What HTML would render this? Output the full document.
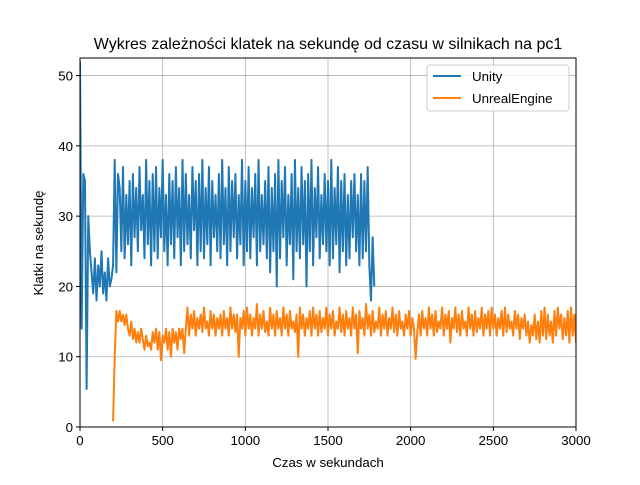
<!DOCTYPE html>
<html><head><meta charset="utf-8"><style>
body{margin:0;background:#fff;}
svg text{font-family:"Liberation Sans","DejaVu Sans",sans-serif;}
</style></head><body>
<svg id="chart" width="640" height="480" xmlns="http://www.w3.org/2000/svg">
<defs><clipPath id="plotclip"><rect x="80" y="58" width="496" height="369"/></clipPath></defs>
<rect width="640" height="480" fill="#fff"/>
<text x="328" y="49" font-size="16" text-anchor="middle">Wykres zależności klatek na sekundę od czasu w silnikach na pc1</text>
<g id="grid"></g>
<g id="series" clip-path="url(#plotclip)"></g>
<rect x="80" y="58" width="496" height="369" fill="none" stroke="#000" stroke-width="1"/>
<g id="ticks"></g>
<text x="328" y="467" font-size="13.3" text-anchor="middle">Czas w sekundach</text>
<text x="0" y="0" font-size="13.3" text-anchor="middle" transform="translate(43,243) rotate(-90)">Klatki na sekundę</text>
<g>
<rect x="427" y="65" width="142" height="46" rx="3" fill="#fff" fill-opacity="0.8" stroke="#ccc"/>
<line x1="433" y1="76" x2="461" y2="76" stroke="#1f77b4" stroke-width="2"/>
<text x="472" y="81" font-size="13.3">Unity</text>
<line x1="433" y1="98" x2="461" y2="98" stroke="#ff7f0e" stroke-width="2"/>
<text x="472" y="103" font-size="13.3">UnrealEngine</text>
</g>
</svg>
<script>
const xTicks=[0,500,1000,1500,2000,2500,3000];
const yTicks=[0,10,20,30,40,50];
const unityStart=0, unityStep=10;
const unityValues=[52,14,36,35,5.4,30,25,
22,19,24,18,23,20,25,19,22,18,24,20,21,
23,38,22,36,
34,25,37,24,33,26,35,23,36,27,34,25,37,28,33,24,
38,26,35,23,36,25,37,24,34,27,38,25,33,23,36,26,
35,24,37,27,34,23,38,25,36,26,33,24,37,28,35,23,
36,25,38,24,34,26,37,23,35,27,33,25,36,24,38,26,
34,23,37,25,35,27,36,24,33,26,38,23,35,25,37,24,
34,27,36,23,38,25,33,26,35,24,37,22,34,25,36,20,
38,24,35,27,37,23,33,26,36,21,38,25,34,24,37,26,
35,20,36,25,38,23,34,27,37,24,33,26,36,25,35,23,
38,24,34,26,37,22,35,25,36,23,33,24,35,27,36,25,
33,23,36,24,35,25,37,23,
18,27,20];
const unrealStart=200, unrealStep=10;
const unrealValues=[0.8,
10,16.5,15,16.5,15,16,14.5,16,14,
13,15,12.5,14,12,13.5,12,14,12.5,11,13,11.5,12,11,13.5,
12,14,11,13.5,9.5,13,12,14,11,13.5,10,14,12,13.5,11,14,12.5,14,10.5,14,
17,13,16,14,16.5,13,15.5,14,16,13.5,17,14,15,13,16.5,14,16,13,15.5,14,
16,13,16.5,14,15.5,13,17,14,16,13.5,16,10,15.5,14,16.5,13,17,14,16,13,
15.5,14,17.5,13,16,14,16.5,13.5,15,13,17,14,16,13,16.5,14,15.5,13,17,14,
16,13,16.5,14,15,13.5,16,10,17,14,16,13,15.5,14,16.5,13,17,14,16,13,
16.5,13.5,15.5,14,17,13,16,14,16.5,13,15,14,17,13.5,16,13,16.5,14,15.5,13,
17,14,16,10.5,16.5,14,15.5,13,17.5,14,16,13,16.5,13.5,15,14,17,13,16,14,
16.5,13,15.5,14,17,13.5,16,13,16.5,14,15,13,16,14,16.5,13,15.5,14,9.7,13.5,
16,13,16.5,14,15.5,13,17,14,16,13,16.5,13.5,15,14,17,13,16,14,16.5,12,
15.5,14,17,13.5,16,13,16.5,14,15,13,17,14,16,13,16.5,13.5,15.5,14,17,13,
16,14,16.5,13,17,14,16,13,15.5,14,16.5,13,17,13.5,16,14,15,13,16.5,14,
16,12.5,15.5,14,16,13,15,12,14.5,13,16,12.5,15,12,16.5,13,17,12.5,16,13,
15,12,16.5,13,17,14,16,12.5,15.5,13,16.5,12,17,13,16,12];
const ns='http://www.w3.org/2000/svg';
const X0=80,X1=576,Y0=427,Y1=58,XMAX=3000,YMAX=52.5;
function sx(v){return X0+(v/XMAX)*(X1-X0);}
function sy(v){return Y0-(v/YMAX)*(Y0-Y1);}
const grid=document.getElementById('grid'),ticks=document.getElementById('ticks'),ser=document.getElementById('series');
xTicks.forEach(t=>{
 const g=document.createElementNS(ns,'line');
 
 
 g.setAttribute('x1',sx(t));g.setAttribute('x2',sx(t));g.setAttribute('y1',Y1);g.setAttribute('y2',Y0);
 g.setAttribute('stroke','#b0b0b0');g.setAttribute('stroke-width','0.8');grid.appendChild(g);
 const tk=document.createElementNS(ns,'line');
 
 
 tk.setAttribute('x1',sx(t));tk.setAttribute('x2',sx(t));tk.setAttribute('y1',Y0);tk.setAttribute('y2',Y0+4);
 tk.setAttribute('stroke','#000');ticks.appendChild(tk);
 const tx=document.createElementNS(ns,'text');
 
 
 tx.setAttribute('x',sx(t));tx.setAttribute('y',Y0+18);tx.setAttribute('font-size','13.3');tx.setAttribute('text-anchor','middle');
 tx.textContent=t;ticks.appendChild(tx);
});
yTicks.forEach(t=>{
 const g=document.createElementNS(ns,'line');
 
 
 g.setAttribute('x1',X0);g.setAttribute('x2',X1);g.setAttribute('y1',sy(t));g.setAttribute('y2',sy(t));
 g.setAttribute('stroke','#b0b0b0');g.setAttribute('stroke-width','0.8');grid.appendChild(g);
 const tk=document.createElementNS(ns,'line');
 
 
 tk.setAttribute('x1',X0-4);tk.setAttribute('x2',X0);tk.setAttribute('y1',sy(t));tk.setAttribute('y2',sy(t));
 tk.setAttribute('stroke','#000');ticks.appendChild(tk);
 const tx=document.createElementNS(ns,'text');
 
 
 tx.setAttribute('x',X0-7);tx.setAttribute('y',sy(t)+5);tx.setAttribute('font-size','13.3');tx.setAttribute('text-anchor','end');
 tx.textContent=t;ticks.appendChild(tx);
});
function drawLine(vals,start,step,color,name){
 const pts=vals.map((v,i)=>sx(start+i*step).toFixed(2)+','+sy(v).toFixed(2)).join(' ');
 const p=document.createElementNS(ns,'polyline');
 
 
 p.setAttribute('points',pts);p.setAttribute('fill','none');p.setAttribute('stroke',color);
 p.setAttribute('stroke-width','2');p.setAttribute('stroke-linejoin','round');
 ser.appendChild(p);
}
drawLine(unityValues,unityStart,unityStep,'#1f77b4','unity-line');
drawLine(unrealValues,unrealStart,unrealStep,'#ff7f0e','unreal-line');
</script>
</body></html>
